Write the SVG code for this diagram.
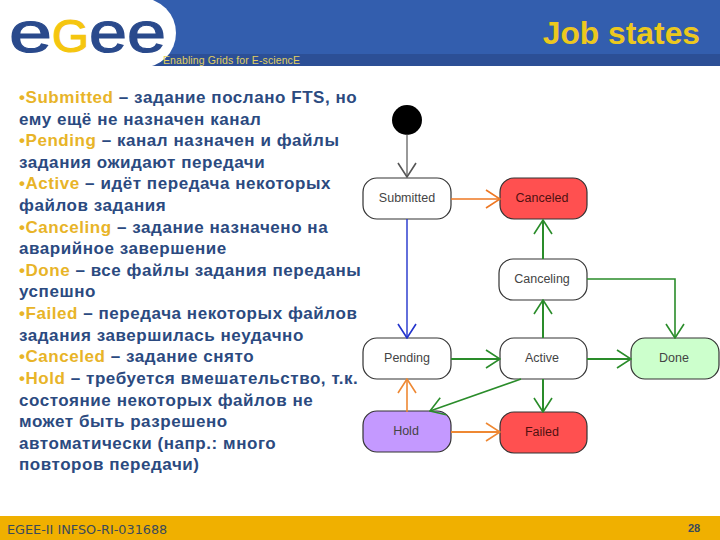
<svg xmlns="http://www.w3.org/2000/svg" width="720" height="540" viewBox="0 0 720 540">
<style>
text{font-family:"Liberation Sans",Arial,sans-serif}
.body{font-size:17px;font-weight:700;fill:#2b4a80;letter-spacing:.55px}
.k{fill:#e8b428}
.n{font-size:12.5px;fill:#444;text-anchor:middle}
.box{stroke:#333;stroke-width:1.2}
.c{fill:none}
.logo{font-size:58px;fill:#2a4a8c;stroke:#2a4a8c;stroke-width:1.2}
</style>
<defs>
<marker id="a" viewBox="0 0 16 20" refX="15" refY="10" markerWidth="16" markerHeight="20" markerUnits="userSpaceOnUse" orient="auto"><path d="M1 1L15 10L1 19" fill="none" stroke="context-stroke" stroke-width="1.6"/></marker>
</defs>
<rect width="720" height="540" fill="#fff"/>
<g id="header">
<rect width="720" height="66" fill="#335eae"/>
<rect y="54" width="720" height="12" fill="#2c4f96"/>
<circle cx="141" cy="33" r="35" fill="#fff"/>
<rect x="0" y="0" width="141" height="66" fill="#fff"/>
<text class="logo" x="9" y="52" textLength="43" lengthAdjust="spacingAndGlyphs">e</text>
<text class="logo" x="52" y="52" font-size="47" textLength="37" lengthAdjust="spacingAndGlyphs" style="font-size:47px;fill:#f5c60f;stroke:#f5c60f">G</text>
<text class="logo" x="89" y="52" textLength="38" lengthAdjust="spacingAndGlyphs">e</text>
<text class="logo" x="127" y="52" textLength="39" lengthAdjust="spacingAndGlyphs">e</text>
<text x="163" y="64" font-size="10.5" fill="#e0d060" letter-spacing=".1">Enabling Grids for E-sciencE</text>
<text x="700" y="44" font-size="31.8" font-weight="700" fill="#ecc81e" text-anchor="end">Job states</text>
</g>
<g id="description">
<text class="body" x="19" y="103"><tspan class="k">•Submitted</tspan> – задание послано FTS, но</text>
<text class="body" x="19" y="125">ему ещё не назначен канал</text>
<text class="body" x="19" y="146"><tspan class="k">•Pending</tspan> – канал назначен и файлы</text>
<text class="body" x="19" y="168">задания ожидают передачи</text>
<text class="body" x="19" y="189"><tspan class="k">•Active</tspan> – идёт передача некоторых</text>
<text class="body" x="19" y="211">файлов задания</text>
<text class="body" x="19" y="233"><tspan class="k">•Canceling</tspan> – задание назначено на</text>
<text class="body" x="19" y="254">аварийное завершение</text>
<text class="body" x="19" y="276"><tspan class="k">•Done</tspan> – все файлы задания переданы</text>
<text class="body" x="19" y="297">успешно</text>
<text class="body" x="19" y="319"><tspan class="k">•Failed</tspan> – передача некоторых файлов</text>
<text class="body" x="19" y="341">задания завершилась неудачно</text>
<text class="body" x="19" y="362"><tspan class="k">•Canceled</tspan> – задание снято</text>
<text class="body" x="19" y="384"><tspan class="k">•Hold</tspan> – требуется вмешательство, т.к.</text>
<text class="body" x="19" y="406">состояние некоторых файлов не</text>
<text class="body" x="19" y="427">может быть разрешено</text>
<text class="body" x="19" y="449">автоматически (напр.: много</text>
<text class="body" x="19" y="470">повторов передачи)</text>
</g>
<g id="start"><circle cx="407" cy="120" r="15" fill="#000"/></g>
<g id="submitted"><rect class="box" x="363" y="178" width="88" height="41" rx="14" fill="#fff"/><text class="n" x="407" y="202">Submitted</text></g>
<g id="canceled"><rect class="box" x="500" y="178" width="87" height="41" rx="14" fill="#ff5050"/><text class="n" x="542" y="202" style="fill:#501010">Canceled</text></g>
<g id="canceling"><rect class="box" x="499" y="259" width="88" height="41" rx="14" fill="#fff"/><text class="n" x="542" y="283">Canceling</text></g>
<g id="pending"><rect class="box" x="363" y="338" width="88" height="41" rx="14" fill="#fff"/><text class="n" x="407" y="362">Pending</text></g>
<g id="active"><rect class="box" x="500" y="338" width="87" height="41" rx="14" fill="#fff"/><text class="n" x="542" y="362">Active</text></g>
<g id="done"><rect class="box" x="631" y="338" width="88" height="41" rx="14" fill="#ccffcc"/><text class="n" x="674" y="362">Done</text></g>
<g id="hold"><rect class="box" x="363" y="411" width="88" height="41" rx="14" fill="#c499ff"/><text class="n" x="406" y="435">Hold</text></g>
<g id="failed"><rect class="box" x="500" y="412" width="87" height="41" rx="14" fill="#ff5050"/><text class="n" x="542" y="436" style="fill:#501010">Failed</text></g>
<g id="connectors" class="c">
<path d="M407 134V177" stroke="#555" stroke-width="1.2" marker-end="url(#a)"/>
<path d="M451 199H500" stroke="#ee7722" stroke-width="1.4" marker-end="url(#a)"/>
<path d="M407 219V338" stroke="#2233cc" stroke-width="1.4" marker-end="url(#a)"/>
<path d="M543 259V220" stroke="#2a8c2a" stroke-width="2" marker-end="url(#a)"/>
<path d="M587 279H675V338" stroke="#2a8c2a" stroke-width="1.6" marker-end="url(#a)"/>
<path d="M543 338V300" stroke="#2a8c2a" stroke-width="2" marker-end="url(#a)"/>
<path d="M451 359H500" stroke="#2a8c2a" stroke-width="2" marker-end="url(#a)"/>
<path d="M587 359H631" stroke="#2a8c2a" stroke-width="2" marker-end="url(#a)"/>
<path d="M543 379V412" stroke="#2a8c2a" stroke-width="2" marker-end="url(#a)"/>
<path d="M521 379L430 411" stroke="#2a8c2a" stroke-width="1.6" marker-end="url(#a)"/>
<path d="M407 412V379" stroke="#ee8833" stroke-width="1.6" marker-end="url(#a)"/>
<path d="M451 432H500" stroke="#ee8833" stroke-width="2" marker-end="url(#a)"/>
</g>
<g id="footer">
<rect y="516" width="720" height="24" fill="#f0b000"/>
<text x="7" y="534" font-size="12.8" fill="#3a4a5a" style="font-family:'DejaVu Sans',sans-serif">EGEE-II INFSO-RI-031688</text>
<text x="694" y="532" font-size="11" font-weight="700" fill="#3a4a5a" text-anchor="middle">28</text>
</g>
</svg>
